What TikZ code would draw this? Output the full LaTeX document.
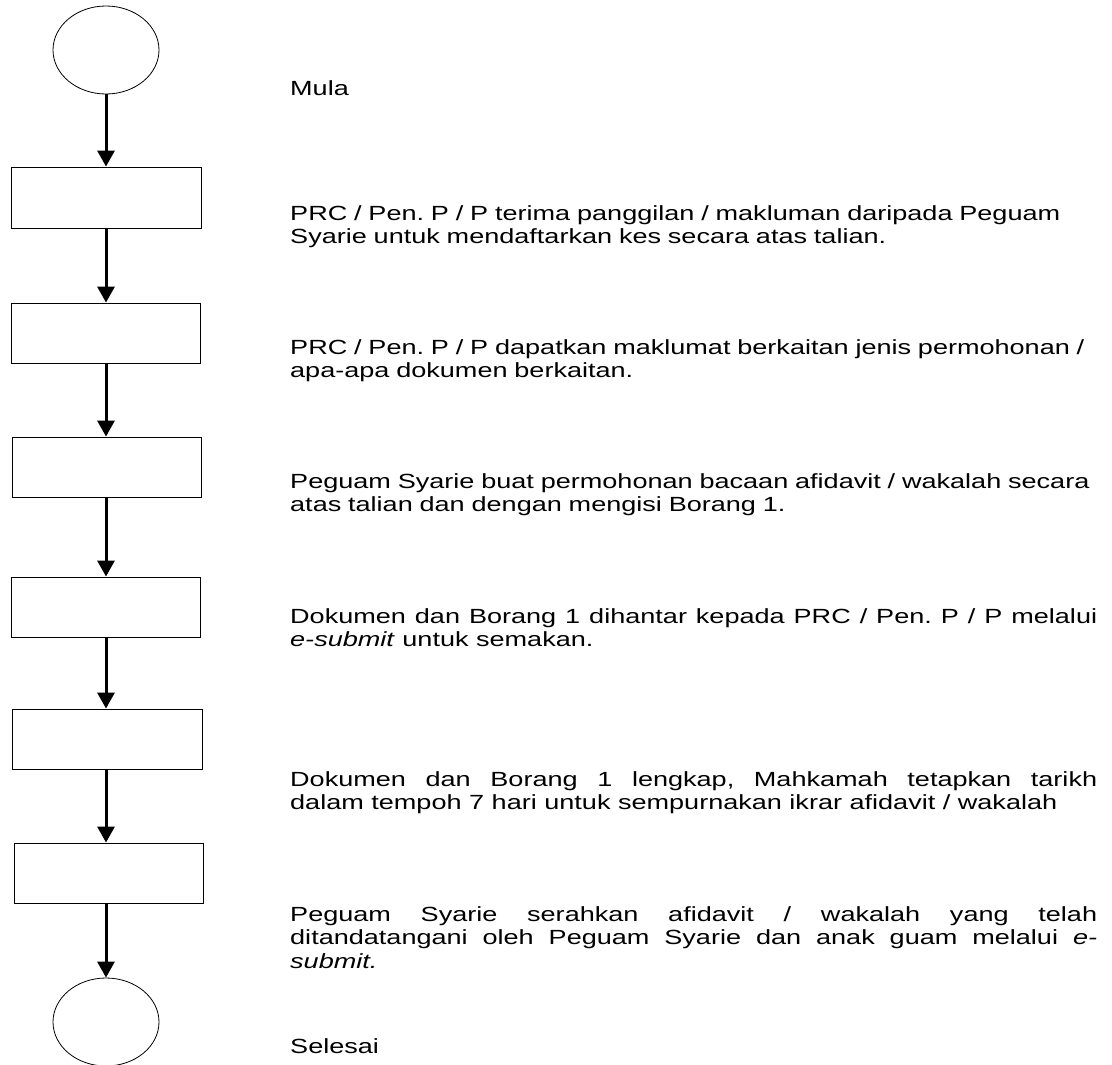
\documentclass[tikz,border=0pt]{standalone}
\usepackage{fontspec}
\setmainfont{Liberation Sans}[FakeStretch=1.32]
\usetikzlibrary{arrows.meta,shapes.geometric}
\hyphenpenalty=10000
\exhyphenpenalty=10000
\frenchspacing
\tikzset{
  stepbox/.style={draw=black, line width=0.9pt, rectangle, inner sep=0pt},
  termnode/.style={draw=black, line width=0.8pt, ellipse, inner sep=0pt, minimum width=106pt, minimum height=88pt},
  flowarrow/.style={line width=3pt, -{Triangle[length=16pt,width=17pt]}},
  desc/.style={anchor=north west, inner sep=0pt,
    font=\frenchspacing\fontsize{20.5pt}{23.5pt}\selectfont},
  descleft/.style={desc, text width=815pt, align=left},
  descjust/.style={desc, text width=807pt, align=justify},
}
\begin{document}
\begin{tikzpicture}[x=1pt,y=-1pt]
\useasboundingbox (0,0) rectangle (1112,1065);
% shapes
\node[termnode] (e1) at (106,50) {};
\node[stepbox, minimum width=190pt, minimum height=61pt] (b1) at (106,197.5) {};
\node[stepbox, minimum width=189pt, minimum height=60pt] (b2) at (105.5,333) {};
\node[stepbox, minimum width=189pt, minimum height=60pt] (b3) at (106.5,467) {};
\node[stepbox, minimum width=189pt, minimum height=60pt] (b4) at (105.5,607) {};
\node[stepbox, minimum width=190pt, minimum height=60pt] (b5) at (107,739) {};
\node[stepbox, minimum width=189pt, minimum height=60pt] (b6) at (108.5,873) {};
\node[termnode] (e2) at (106,1022) {};
% connectors
\draw[flowarrow] (e1.south) -- (b1.north -| e1.south);
\draw[flowarrow] (b1.south -| e1.south) -- (b2.north -| e1.south);
\draw[flowarrow] (b2.south -| e1.south) -- (b3.north -| e1.south);
\draw[flowarrow] (b3.south -| e1.south) -- (b4.north -| e1.south);
\draw[flowarrow] (b4.south -| e1.south) -- (b5.north -| e1.south);
\draw[flowarrow] (b5.south -| e1.south) -- (b6.north -| e1.south);
\draw[flowarrow] (b6.south -| e1.south) -- (e2.north);
% descriptions
\node[descleft] (t0) at (290,80) {Mula};
\node[descleft] (t1) at (290,205) {PRC / Pen. P / P terima panggilan / makluman daripada Peguam\\Syarie untuk mendaftarkan kes secara atas talian.};
\node[descleft] (t2) at (290,339) {PRC / Pen. P / P dapatkan maklumat berkaitan jenis permohonan /\\apa-apa dokumen berkaitan.};
\node[descleft] (t3) at (290,473) {Peguam Syarie buat permohonan bacaan afidavit / wakalah secara\\atas talian dan dengan mengisi Borang 1.};
\node[descjust] (t4) at (290,608) {Dokumen dan Borang 1 dihantar kepada PRC / Pen. P / P melalui\linebreak \textit{e-submit} untuk semakan.};
\node[descjust] (t5) at (290,771) {Dokumen dan Borang 1 lengkap, Mahkamah tetapkan tarikh\linebreak dalam tempoh 7 hari untuk sempurnakan ikrar afidavit / wakalah};
\node[descjust] (t6) at (290,906) {Peguam Syarie serahkan afidavit / wakalah yang telah\linebreak ditandatangani oleh Peguam Syarie dan anak guam melalui \textit{e-}\linebreak \textit{submit.}};
\node[descleft] (t7) at (290,1038) {Selesai};
\end{tikzpicture}
\end{document}
